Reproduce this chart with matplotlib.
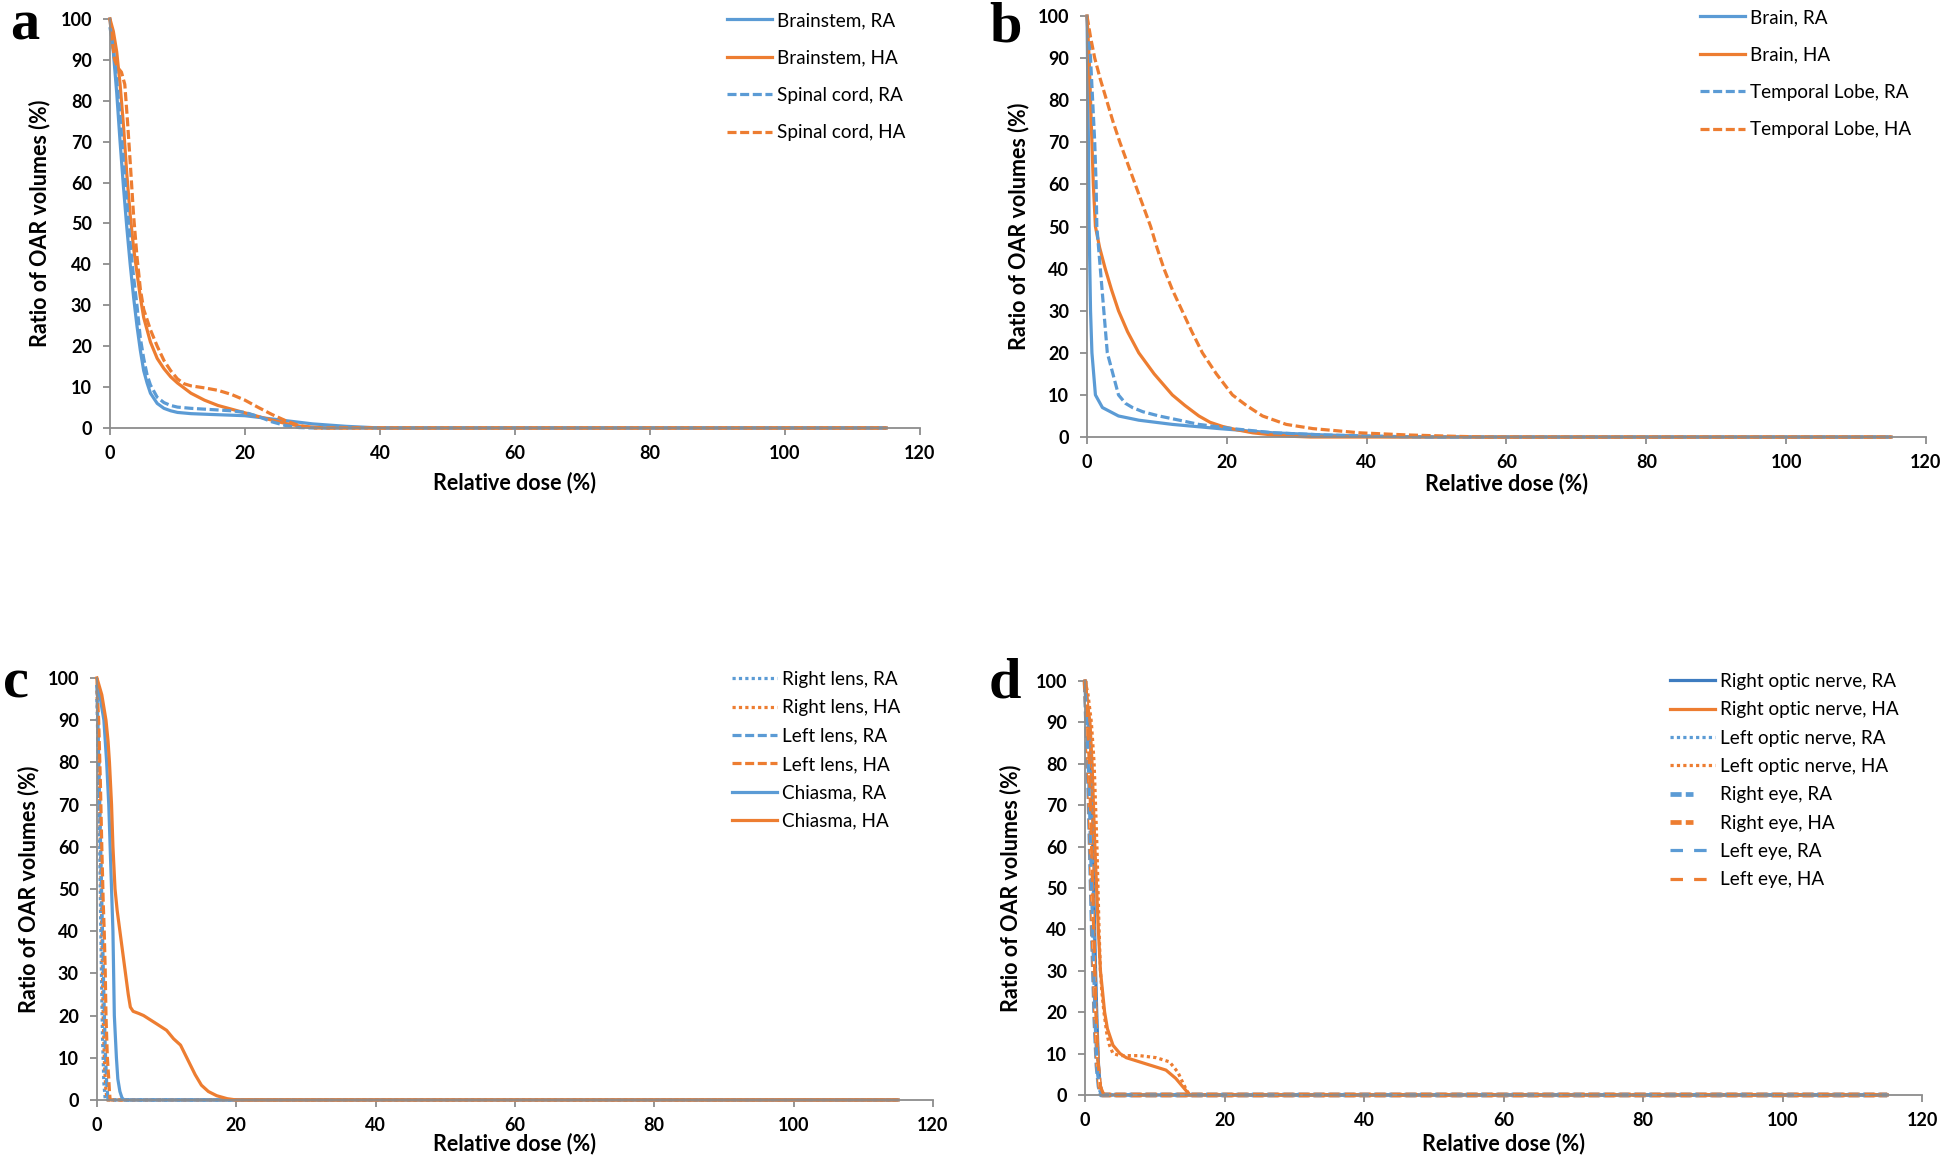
import matplotlib
matplotlib.use('Agg')
import matplotlib.pyplot as plt
from matplotlib.lines import Line2D
from matplotlib.legend_handler import HandlerTuple

plt.rcParams['font.family'] = ['Lato', 'DejaVu Sans']
plt.rcParams['lines.scale_dashes'] = False

BLUE = '#5B9BD5'
ORANGE = '#ED7D31'
DBLUE = '#3E7CC0'
SPINE = '#8C8C8C'

# ---------------- Panel a ----------------
a_bs_ra_x = [0, 0.5, 1, 1.5, 2, 2.5, 3, 3.5, 4, 4.5, 5, 5.5, 6, 7, 8, 9, 10, 12, 15, 20, 22, 25, 30, 35, 40, 115]
a_bs_ra_y = [100, 92, 82, 70, 59, 49, 40, 32, 25, 19, 14, 11, 8.5, 6, 4.8, 4.2, 3.8, 3.5, 3.3, 3.0, 2.6, 2.0, 1.0, 0.4, 0, 0]
a_bs_ha_x = [0, 0.5, 1, 1.5, 2, 2.5, 3, 3.5, 4, 4.5, 5, 6, 7, 8, 9, 10, 12, 14, 16, 18, 20, 22, 24, 26, 28, 30, 32, 115]
a_bs_ha_y = [100, 97, 92, 84, 74, 62, 52, 44, 38, 32, 27, 21, 17, 14.5, 12.5, 11, 8.5, 6.8, 5.5, 4.6, 3.7, 2.8, 1.9, 1.1, 0.5, 0.2, 0, 0]
a_sc_ra_x = [0, 0.3, 0.7, 1, 1.5, 2, 2.5, 3, 3.5, 4, 4.5, 5, 5.5, 6, 7, 8, 9, 10, 12, 15, 18, 20, 22, 24, 26, 28, 30, 115]
a_sc_ra_y = [98, 95, 90, 85, 76, 65, 55, 45, 37, 30, 22, 17, 13, 10.5, 7.5, 6.2, 5.5, 5.1, 4.8, 4.5, 4.2, 3.8, 2.8, 1.5, 0.6, 0.1, 0, 0]
a_sc_ha_x = [0, 0.3, 0.7, 1.2, 1.7, 2.2, 2.6, 3, 3.5, 4, 4.5, 5, 6, 7, 8, 9, 10, 11, 12, 14, 16, 18, 20, 22, 24, 26, 28, 30, 115]
a_sc_ha_y = [100, 95, 90, 88, 87, 84, 75, 65, 52, 42, 34, 29, 24, 20, 16.5, 14, 12, 10.8, 10.3, 9.8, 9.2, 8.2, 6.8, 5, 3.3, 1.8, 0.6, 0, 0]

# ---------------- Panel b ----------------
b_br_ra_x = [0, 0.1, 0.2, 0.3, 0.5, 0.7, 1.2, 2.2, 4.5, 7.4, 12.2, 18.9, 26.6, 33.8, 40, 45, 50, 115]
b_br_ra_y = [100, 85, 70, 50, 30, 20, 10, 7, 5, 4, 3, 2, 1, 0.5, 0.2, 0.05, 0, 0]
b_br_ha_x = [0, 0.3, 0.5, 0.7, 0.9, 1.2, 1.8, 2.6, 3.5, 4.5, 5.8, 7.4, 9.6, 12.2, 14, 16, 17.6, 19.4, 21.5, 23.7, 26.5, 29, 32, 115]
b_br_ha_y = [100, 90, 80, 70, 60, 50, 45, 40, 35, 30, 25, 20, 15, 10, 7.5, 5, 3.5, 2.5, 1.7, 1, 0.5, 0.2, 0, 0]
b_tl_ra_x = [0, 0.5, 0.8, 1.1, 1.3, 1.4, 1.9, 2.4, 2.9, 4.5, 5.5, 6.5, 8, 10.3, 13.2, 16, 20.8, 26.6, 33.8, 40, 45, 50, 115]
b_tl_ra_y = [100, 90, 80, 70, 60, 50, 40, 30, 20, 10, 8, 7, 6, 5, 4, 3, 2, 1, 0.5, 0.25, 0.1, 0, 0]
b_tl_ha_x = [0, 0.5, 1.1, 1.9, 2.8, 3.7, 4.7, 5.8, 6.9, 8, 9.1, 10, 11, 12.2, 13.6, 15, 16.5, 18.5, 20.8, 22.8, 25.1, 28.5, 32.3, 39, 45.7, 52, 57, 115]
b_tl_ha_y = [100, 95, 90, 85, 80, 75, 70, 65, 60, 55, 50, 45, 40, 35, 30, 25, 20, 15, 10, 7.5, 5, 3, 2, 1, 0.5, 0.2, 0, 0]

# ---------------- Panel c ----------------
c_rl_ra_x = [0, 0.2, 0.4, 0.6, 0.8, 1.0, 1.2, 115]
c_rl_ra_y = [95, 80, 60, 35, 15, 4, 0, 0]
c_rl_ha_x = [0, 0.3, 0.5, 0.7, 0.9, 1.1, 1.3, 1.5, 115]
c_rl_ha_y = [97, 80, 60, 40, 20, 8, 2, 0, 0]
c_ll_ra_x = [0, 0.2, 0.4, 0.6, 0.8, 1.0, 1.2, 1.4, 1.6, 115]
c_ll_ra_y = [98, 85, 70, 55, 40, 25, 12, 4, 0, 0]
c_ll_ha_x = [0, 0.1, 0.25, 0.5, 0.7, 0.9, 1.05, 1.2, 1.3, 1.5, 1.7, 1.8, 1.9, 115]
c_ll_ha_y = [100, 95, 90, 75, 60, 47, 40, 30, 20, 10, 5, 2, 0, 0]
c_ch_ra_x = [0, 0.5, 1, 1.4, 1.7, 1.9, 2.1, 2.3, 2.4, 2.5, 2.8, 3, 3.3, 3.6, 3.9, 115]
c_ch_ra_y = [98, 95, 90, 80, 70, 60, 50, 40, 30, 20, 10, 5, 2, 0.5, 0, 0]
c_ch_ha_x = [0, 0.7, 1.3, 1.6, 1.8, 2.1, 2.3, 2.6, 2.9, 3.3, 3.7, 4.1, 4.5, 4.8, 5.2, 6, 6.7, 8.6, 10, 11, 12, 12.9, 14.1, 15, 16, 17.2, 18.7, 20, 115]
c_ch_ha_y = [100, 96, 90, 85, 80, 70, 60, 50, 45, 40, 35, 30, 25, 22, 21, 20.5, 20, 18, 16.5, 14.5, 13, 10, 6, 3.5, 2, 1, 0.3, 0, 0]

# ---------------- Panel d ----------------
d_ron_ra_x = [0, 0.3, 0.6, 0.9, 1.1, 1.3, 1.5, 1.7, 1.9, 2.1, 2.4, 2.7, 115]
d_ron_ra_y = [100, 95, 88, 75, 60, 45, 30, 18, 8, 3, 0.5, 0, 0]
d_ron_ha_x = [0, 0.3, 0.7, 1.0, 1.2, 1.4, 1.65, 1.9, 2.2, 2.8, 3.2, 3.6, 4, 5, 5.9, 7.8, 9.7, 11.6, 12.3, 13, 13.5, 14, 14.5, 15, 115]
d_ron_ha_y = [100, 95, 90, 80, 70, 60, 50, 40, 30, 20, 16, 14, 12, 10, 9, 8, 7, 6, 5, 4, 3, 2, 1, 0, 0]
d_lon_ra_x = [0, 0.3, 0.6, 0.9, 1.1, 1.3, 1.5, 1.7, 1.9, 2.2, 2.5, 115]
d_lon_ra_y = [100, 93, 85, 70, 55, 40, 27, 15, 7, 2, 0, 0]
d_lon_ha_x = [0, 0.4, 0.9, 1.3, 1.5, 1.7, 1.85, 2.0, 2.2, 2.4, 2.7, 3.1, 3.5, 4, 5, 6, 7.8, 10.2, 12.1, 13.3, 14, 14.6, 15, 115]
d_lon_ha_y = [100, 97, 90, 80, 70, 60, 50, 40, 30, 25, 20, 15, 12, 10, 9.5, 9.5, 9.5, 9, 8, 5.5, 3, 1, 0, 0]
d_re_ra_x = [0, 0.2, 0.5, 0.8, 1.1, 1.4, 1.7, 2.0, 2.3, 115]
d_re_ra_y = [100, 90, 75, 55, 35, 18, 7, 2, 0, 0]
d_re_ha_x = [0, 0.3, 0.6, 0.9, 1.2, 1.5, 1.8, 2.1, 2.5, 115]
d_re_ha_y = [100, 90, 75, 55, 35, 18, 7, 2, 0, 0]
d_le_ra_x = [0, 0.3, 0.6, 0.9, 1.2, 1.5, 1.8, 2.1, 2.4, 115]
d_le_ra_y = [98, 88, 72, 52, 32, 15, 5, 1, 0, 0]
d_le_ha_x = [0, 0.3, 0.6, 0.9, 1.2, 1.5, 1.8, 2.2, 2.7, 115]
d_le_ha_y = [100, 92, 80, 62, 42, 22, 9, 2, 0, 0]

x_ticks = [0, 20, 40, 60, 80, 100, 120]
y_ticks = [0, 10, 20, 30, 40, 50, 60, 70, 80, 90, 100]
xlabel = 'Relative dose (%)'
ylabel = 'Ratio of OAR volumes (%)'

LW = 2.3
SOLID = '-'
DASH = (0, (6.5, 2.6))
DOT = (0, (2.3, 2.3))
LDASH = (0, (9, 8))

fig = plt.figure(figsize=(19.46, 11.62), dpi=100)

rects = {
    'a': [0.0565, 0.6317, 0.4162, 0.3520],
    'b': [0.5586, 0.6239, 0.4311, 0.3623],
    'c': [0.0498, 0.0534, 0.4296, 0.3632],
    'd': [0.5576, 0.0577, 0.4301, 0.3563],
}
ylab_x = {'a': -0.074, 'b': -0.069, 'c': -0.069, 'd': -0.076}
xlab_y = {'a': -0.108, 'b': -0.084, 'c': -0.078, 'd': -0.092}
letter_pos = {'a': (10, 40), 'b': (989, 41), 'c': (3, 698), 'd': (989, 698)}
legend_pos = {'a': (727, 12), 'b': (1700, 9), 'c': (732, 671), 'd': (1670, 673)}
legend_spacing = {'a': 1.08, 'b': 1.08, 'c': 0.6, 'd': 0.6}

axes = {}
for k, r in rects.items():
    ax = fig.add_axes(r)
    axes[k] = ax
    ax.set_xlim(0, 120)
    ax.set_ylim(0, 100)
    ax.set_xticks(x_ticks)
    ax.set_yticks(y_ticks)
    for s in ['top', 'right']:
        ax.spines[s].set_visible(False)
    for s in ['left', 'bottom']:
        ax.spines[s].set_color(SPINE)
        ax.spines[s].set_linewidth(1.3)
    ax.tick_params(axis='both', direction='out', color=SPINE, width=1.3, length=5,
                   labelsize=13)
    ax.tick_params(axis='y', pad=8)
    ax.tick_params(axis='x', pad=7)
    for lab in ax.get_xticklabels() + ax.get_yticklabels():
        lab.set_fontweight('bold')
    ax.set_xlabel(xlabel, fontsize=15.5, fontweight='bold')
    ax.set_ylabel(ylabel, fontsize=15.5, fontweight='bold')
    ax.yaxis.set_label_coords(ylab_x[k], 0.5)
    ax.xaxis.set_label_coords(0.5, xlab_y[k])
    lx, ly = letter_pos[k]
    fig.text(lx / 1946, 1 - ly / 1162, k, fontsize=42, fontweight='bold',
             family='Liberation Serif', ha='left', va='baseline')


def line(ax, x, y, color, ls, label):
    (l,) = ax.plot(x, y, color=color, lw=LW, linestyle=ls, label=label, clip_on=False)
    return l


def hollow(ax, x, y, color, label):
    (l1,) = ax.plot(x, y, color=color, lw=3.4, linestyle=(0, (8, 3)), clip_on=False)
    (l2,) = ax.plot(x, y, color='white', lw=1.3, linestyle=(10, (6, 5)), clip_on=False)
    return (l1, l2)


def add_legend(ax, k, handles, labels):
    lx, ly = legend_pos[k]
    ax.legend(handles, labels, loc='upper left',
              bbox_to_anchor=(lx / 1946, 1 - ly / 1162), bbox_transform=fig.transFigure,
              frameon=False, fontsize=13.6, handlelength=2.4, handletextpad=0.25,
              labelspacing=legend_spacing[k], borderpad=0, borderaxespad=0,
              handler_map={tuple: HandlerTuple(ndivide=None, pad=0)})


# Panel a
ax = axes['a']
h = [line(ax, a_bs_ra_x, a_bs_ra_y, BLUE, SOLID, 'Brainstem, RA'),
     line(ax, a_bs_ha_x, a_bs_ha_y, ORANGE, SOLID, 'Brainstem, HA'),
     line(ax, a_sc_ra_x, a_sc_ra_y, BLUE, DASH, 'Spinal cord, RA'),
     line(ax, a_sc_ha_x, a_sc_ha_y, ORANGE, DASH, 'Spinal cord, HA')]
add_legend(ax, 'a', h, [l.get_label() for l in h])

# Panel b
ax = axes['b']
h = [line(ax, b_br_ra_x, b_br_ra_y, BLUE, SOLID, 'Brain, RA'),
     line(ax, b_br_ha_x, b_br_ha_y, ORANGE, SOLID, 'Brain, HA'),
     line(ax, b_tl_ra_x, b_tl_ra_y, BLUE, DASH, 'Temporal Lobe, RA'),
     line(ax, b_tl_ha_x, b_tl_ha_y, ORANGE, DASH, 'Temporal Lobe, HA')]
add_legend(ax, 'b', h, [l.get_label() for l in h])

# Panel c
ax = axes['c']
h = [line(ax, c_rl_ra_x, c_rl_ra_y, BLUE, DOT, 'Right lens, RA'),
     line(ax, c_rl_ha_x, c_rl_ha_y, ORANGE, DOT, 'Right lens, HA'),
     line(ax, c_ll_ra_x, c_ll_ra_y, BLUE, DASH, 'Left lens, RA'),
     line(ax, c_ll_ha_x, c_ll_ha_y, ORANGE, DASH, 'Left lens, HA'),
     line(ax, c_ch_ra_x, c_ch_ra_y, BLUE, SOLID, 'Chiasma, RA'),
     line(ax, c_ch_ha_x, c_ch_ha_y, ORANGE, SOLID, 'Chiasma, HA')]
add_legend(ax, 'c', h, [l.get_label() for l in h])

# Panel d
ax = axes['d']
h = [line(ax, d_ron_ra_x, d_ron_ra_y, DBLUE, SOLID, 'Right optic nerve, RA'),
     line(ax, d_ron_ha_x, d_ron_ha_y, ORANGE, SOLID, 'Right optic nerve, HA'),
     line(ax, d_lon_ra_x, d_lon_ra_y, BLUE, DOT, 'Left optic nerve, RA'),
     line(ax, d_lon_ha_x, d_lon_ha_y, ORANGE, DOT, 'Left optic nerve, HA'),
     hollow(ax, d_re_ra_x, d_re_ra_y, BLUE, 'Right eye, RA'),
     hollow(ax, d_re_ha_x, d_re_ha_y, ORANGE, 'Right eye, HA'),
     line(ax, d_le_ra_x, d_le_ra_y, BLUE, LDASH, 'Left eye, RA'),
     line(ax, d_le_ha_x, d_le_ha_y, ORANGE, LDASH, 'Left eye, HA')]
labels_d = ['Right optic nerve, RA', 'Right optic nerve, HA', 'Left optic nerve, RA',
            'Left optic nerve, HA', 'Right eye, RA', 'Right eye, HA', 'Left eye, RA', 'Left eye, HA']
add_legend(ax, 'd', h, labels_d)

fig.savefig('out.png', dpi=100)
